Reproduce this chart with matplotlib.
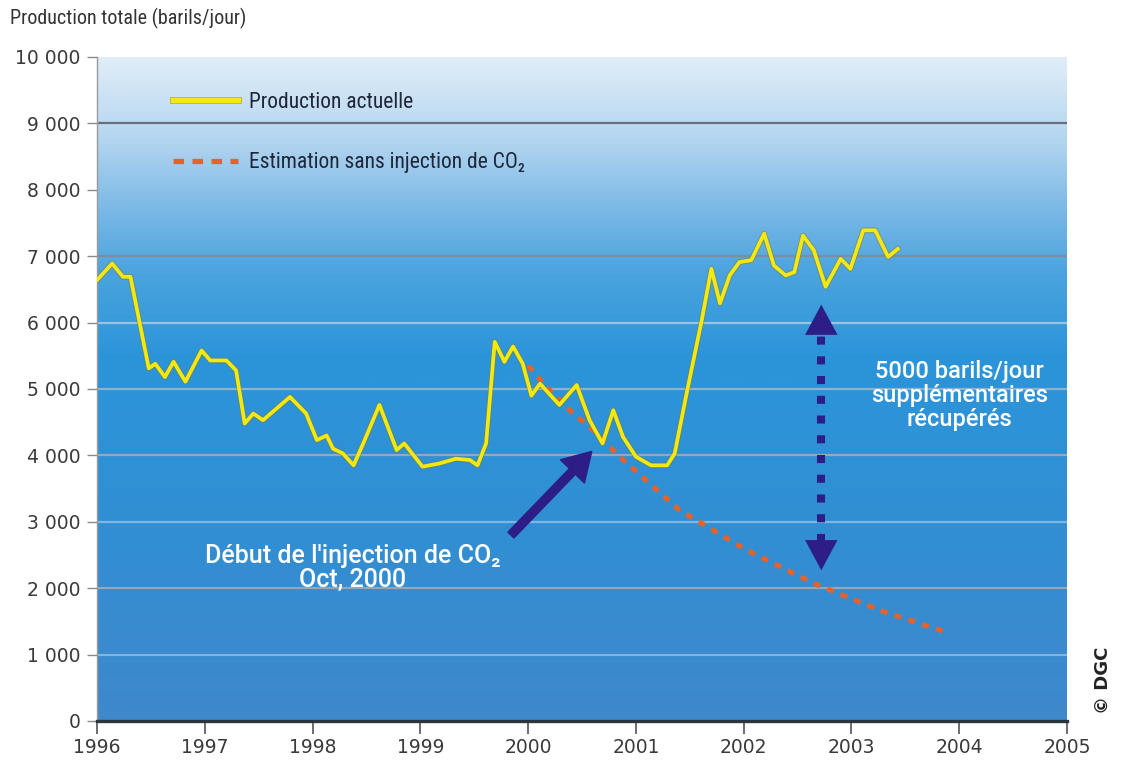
import numpy as np
import matplotlib
matplotlib.use("Agg")
import matplotlib.pyplot as plt
from matplotlib.colors import LinearSegmentedColormap
from matplotlib.ticker import FuncFormatter
from matplotlib.lines import Line2D
import matplotlib.patheffects as pe

plt.rcParams['font.family'] = ['Roboto Condensed', 'DejaVu Sans']

# --- Production actuelle (barils/jour) ---
prod_years = [1996.00, 1996.14, 1996.24, 1996.31, 1996.48, 1996.54, 1996.63, 1996.71,
              1996.82, 1996.97, 1997.05, 1997.20, 1997.29, 1997.37, 1997.45, 1997.54,
              1997.79, 1997.94, 1998.04, 1998.13, 1998.19, 1998.28, 1998.38, 1998.47,
              1998.62, 1998.78, 1998.85, 1999.02, 1999.18, 1999.33, 1999.46, 1999.53,
              1999.61, 1999.69, 1999.78, 1999.86, 1999.95, 2000.03, 2000.11, 2000.29,
              2000.45, 2000.57, 2000.69, 2000.79, 2000.88, 2001.00, 2001.14, 2001.29,
              2001.36, 2001.47, 2001.61, 2001.70, 2001.78, 2001.87, 2001.96, 2002.07,
              2002.19, 2002.28, 2002.39, 2002.47, 2002.55, 2002.65, 2002.76, 2002.90,
              2002.99, 2003.11, 2003.22, 2003.34, 2003.43]
prod_values = [6640, 6890, 6690, 6690, 5310, 5380, 5180, 5410,
               5110, 5580, 5430, 5430, 5280, 4480, 4630, 4530,
               4880, 4630, 4230, 4300, 4100, 4030, 3850, 4180,
               4760, 4080, 4180, 3830, 3880, 3950, 3930, 3850,
               4180, 5710, 5410, 5640, 5380, 4900, 5080, 4760,
               5060, 4530, 4180, 4680, 4280, 3980, 3850, 3850,
               4030, 4930, 6030, 6810, 6290, 6710, 6910, 6940,
               7340, 6860, 6710, 6760, 7310, 7090, 6540, 6960,
               6810, 7390, 7390, 6990, 7110]

# --- Estimation sans injection de CO2 ---
est_years = [2000.00, 2000.17, 2000.45, 2000.54, 2000.85, 2001.40, 2002.02,
             2002.64, 2003.26, 2003.91]
est_values = [5350, 5030, 4580, 4480, 3980, 3180, 2580, 2080, 1670, 1320]

year_ticks = list(range(1996, 2006))
value_ticks = list(range(0, 10001, 1000))

label_prod = "Production actuelle"
label_est = "Estimation sans injection de CO\u2082"
title_text = "Production totale (barils/jour)"
note_injection = "D\u00e9but de l'injection de CO\u2082\nOct, 2000"
note_gain = "5000 barils/jour\nsuppl\u00e9mentaires\nr\u00e9cup\u00e9r\u00e9s"

# annotation anchors (year, barils/jour)
inj_tip = (2000.59, 4060)
inj_tail = (1999.84, 2800)
inj_text = (1998.37, 2300)
gain_x = 2002.72
gain_top = 6270
gain_bottom = 2270
gain_text = (2004.00, 4900)

navy = "#2d1d86"
yellow = "#f4e812"
orange = "#e5622a"
tick_font = ["DejaVu Sans"]

fig = plt.figure(figsize=(11.22, 7.64), dpi=100)
ax = fig.add_axes([0.0865, 0.0563, 0.8645, 0.8691])

# vertical gradient background
bg = LinearSegmentedColormap.from_list("bg", [
    (0.00, "#3f88cc"),
    (0.30, "#318fd3"),
    (0.55, "#2b95da"),
    (0.68, "#4ca4de"),
    (0.78, "#7fbbe7"),
    (0.88, "#b5d6f0"),
    (1.00, "#e0edf8"),
])
grad = np.linspace(0, 1, 256).reshape(-1, 1)
ax.imshow(grad, cmap=bg, origin="lower", aspect="auto",
          extent=[1996, 2005, 0, 10000], zorder=0, interpolation="bicubic")

# horizontal reference lines
grid_colors = {1000: "#7fb5df", 2000: "#98a6b4", 3000: "#7db7e2", 4000: "#98a8b8",
               5000: "#8fb3cf", 6000: "#9cc3e0", 7000: "#7f8d9b", 9000: "#66707c"}
for v, c in grid_colors.items():
    ax.axhline(v, color=c, lw=1.6, zorder=1)

ax.set_xlim(1996, 2005)
ax.set_ylim(0, 10000)

# estimated decline without injection
ax.plot(est_years, est_values, color=orange, lw=3.6,
        linestyle=(0, (1.4, 1.5)), dash_capstyle="butt", zorder=3)

# actual production
ax.plot(prod_years, prod_values, color=yellow, lw=2.7, zorder=4,
        solid_joinstyle="round",
        path_effects=[pe.Stroke(linewidth=4.1, foreground="#7d7a3a", alpha=0.5,
                                joinstyle="round"),
                      pe.Normal()])

# legend
h1 = Line2D([], [], color=yellow, lw=3.8,
            path_effects=[pe.Stroke(linewidth=4.8, foreground="#b5a92a"), pe.Normal()])
h2 = Line2D([], [], color=orange, lw=3.8, linestyle=(0, (2.0, 1.6)))
leg = ax.legend([h1, h2], [label_prod, label_est], loc="upper left",
                bbox_to_anchor=(0.063, 0.970), frameon=False, fontsize=15.5,
                handlelength=3.0, handletextpad=0.5, labelspacing=1.83,
                borderpad=0.2)
for t in leg.get_texts():
    t.set_color("#1f2738")

# arrow pointing at start of CO2 injection
ax.annotate("", xy=inj_tip, xytext=inj_tail,
            arrowprops=dict(arrowstyle="simple,head_length=1.0,head_width=1.2,tail_width=0.3",
                            color=navy, mutation_scale=20, shrinkA=0, shrinkB=0),
            zorder=5)
ax.text(*inj_text, note_injection, color="white", fontsize=18, ha="center",
        va="center", linespacing=1.0, zorder=6, family=["Roboto", "DejaVu Sans"],
        fontweight="medium")

# dotted double arrow for the recovered production
ax.plot([gain_x, gain_x], [gain_bottom + 420, gain_top - 420], color=navy, lw=5.8,
        linestyle=(0, (1.0, 1.45)), dash_capstyle="butt", zorder=5)
for tip, base in [(gain_top, gain_top - 450), (gain_bottom, gain_bottom + 450)]:
    ax.annotate("", xy=(gain_x, tip), xytext=(gain_x, base),
                arrowprops=dict(arrowstyle="-|>,head_length=1.08,head_width=0.58",
                                color=navy, lw=0.1, mutation_scale=20,
                                shrinkA=0, shrinkB=0), zorder=5)
ax.text(*gain_text, note_gain, color="white", fontsize=17, ha="center",
        va="center", linespacing=1.05, zorder=6, family=["Roboto", "DejaVu Sans"],
        fontweight="medium")

# axes styling
ax.set_xticks(year_ticks)
ax.set_yticks(value_ticks)
ax.yaxis.set_major_formatter(FuncFormatter(lambda v, p: f"{int(v):,}".replace(",", " ")))
ax.tick_params(axis="y", length=7, width=1, color="#8a8a8a", labelsize=13.5,
               labelcolor="#3a3a3a", pad=5)
ax.tick_params(axis="x", length=9, width=1.2, color="#555555", labelsize=13.5,
               labelcolor="#3a3a3a", pad=3)
for lab in ax.get_xticklabels() + ax.get_yticklabels():
    lab.set_family(tick_font)
for s in ["top", "right"]:
    ax.spines[s].set_visible(False)
ax.spines["left"].set_color("#9a9a9a")
ax.spines["left"].set_linewidth(1.0)
ax.spines["bottom"].set_color("#2c3440")
ax.spines["bottom"].set_linewidth(2.4)
ax.spines["bottom"].set_zorder(7)

fig.text(0.009, 0.976, title_text, fontsize=14.5, color="#333333", ha="left", va="center")
fig.text(0.983, 0.11, "\u00a9 DGC", fontsize=13, fontweight="bold", color="#222222",
         rotation=90, ha="center", va="center", family=["DejaVu Sans"])

fig.savefig("out.png", dpi=100)
